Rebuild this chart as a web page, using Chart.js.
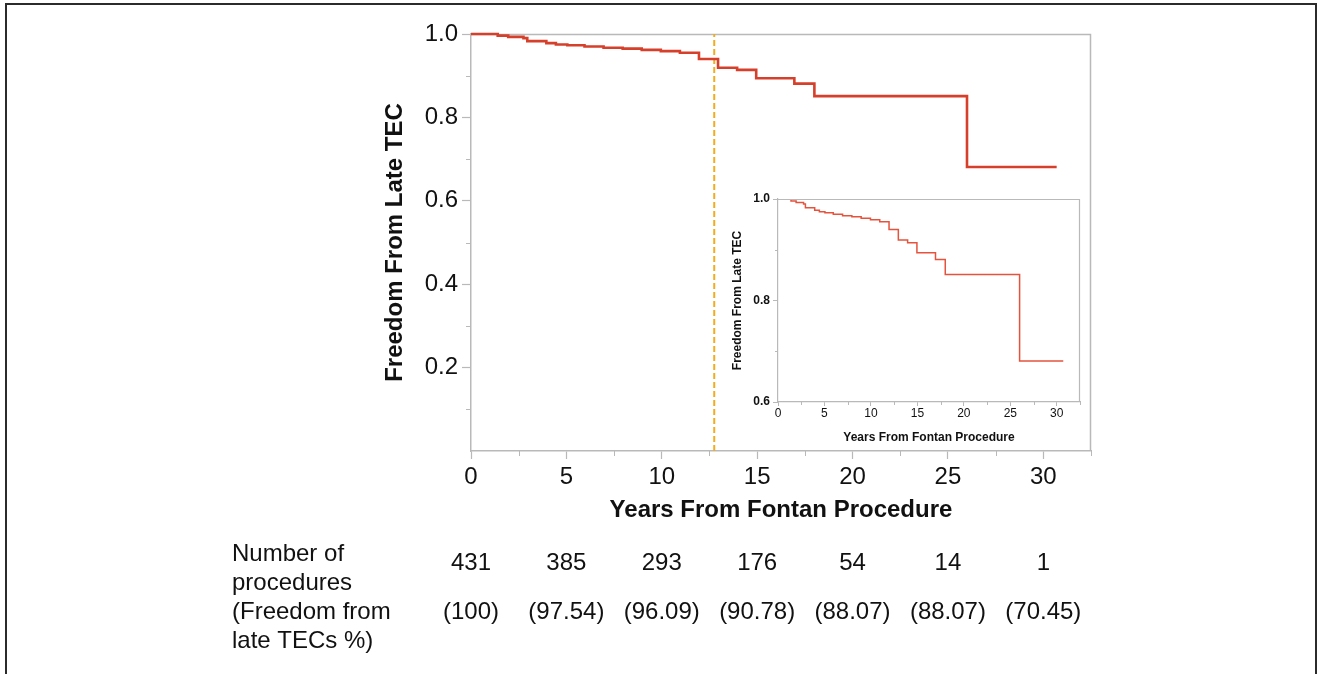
<!DOCTYPE html>
<html>
<head>
<meta charset="utf-8">
<script src="https://cdn.jsdelivr.net/npm/chart.js@4/dist/chart.umd.min.js"></script>
<style>
  body { margin: 0; background: #fff; }
  #wrap { position: relative; width: 1318px; height: 674px; overflow: hidden; background: #fff; }
  #frame { position: absolute; left: 5px; top: 3px; width: 1308px; height: 690px; border: 2px solid #2b2b2b; border-bottom: none; }
  #main { position: absolute; left: 0; top: 0; }
  #inset { position: absolute; left: 725px; top: 188px; }
</style>
</head>
<body>
<div id="wrap">
  <div id="frame"></div>
  <canvas id="main" width="1318" height="674" style="width:1318px;height:674px"></canvas>
  <canvas id="inset" width="362" height="262" style="width:362px;height:262px"></canvas>
</div>
<script>
// Kaplan-Meier steps (years, freedom from late TEC)
const years   = [0, 1.4, 1.95, 2.75, 2.95, 3.95, 4.45, 5.05, 5.95, 6.95, 7.95, 8.95, 9.95, 10.95, 11.95, 12.95, 13.95, 14.95, 16.95, 18.0, 26.0, 30.7];
const freedom = [1.0, 0.996, 0.993, 0.990, 0.983, 0.978, 0.975, 0.973, 0.970, 0.967, 0.965, 0.962, 0.959, 0.955, 0.940, 0.919, 0.914, 0.894, 0.881, 0.851, 0.681, 0.681];

// dashed marker
const cutoffYear = 12.75;

// numbers at risk table
const riskYears  = [0, 5, 10, 15, 20, 25, 30];
const atRisk     = [431, 385, 293, 176, 54, 14, 1];
const freedomPct = ['100', '97.54', '96.09', '90.78', '88.07', '88.07', '70.45'];
const rowLabels  = ['Number of', 'procedures', '(Freedom from', 'late TECs %)'];

const FONT = '"Liberation Sans", Arial, Helvetica, sans-serif';
const axisColor = '#b9b9b9';
const kmPoints = years.map((t, i) => ({x: t, y: freedom[i]}));

function drawFrame(chart, opts) {
  const {ctx, chartArea: a} = chart;
  ctx.save();
  ctx.strokeStyle = axisColor;
  ctx.lineWidth = opts.lw;
  ctx.beginPath();
  ctx.moveTo(a.left, a.top + 0.5);
  ctx.lineTo(a.right - 0.5, a.top + 0.5);
  ctx.lineTo(a.right - 0.5, a.bottom);
  ctx.stroke();
  ctx.restore();
}

// plot frame (top/right) and minor ticks
const extras = {
  id: 'extras',
  beforeDatasetsDraw(chart, args, opts) {
    if (opts.frameBehind) drawFrame(chart, opts);
  },
  afterDraw(chart, args, opts) {
    const {ctx, chartArea: a, scales: {x, y}} = chart;
    if (!opts.frameBehind) drawFrame(chart, opts);
    ctx.save();
    ctx.strokeStyle = axisColor;
    ctx.lineWidth = 1;
    ctx.beginPath();
    for (let i = 0; ; i++) {
      const v = x.min + i * opts.xMinor;
      if (v > x.max + 1e-9) break;
      if (Math.abs(v / opts.xMajor - Math.round(v / opts.xMajor)) < 1e-6) continue;
      const px = Math.round(x.getPixelForValue(v)) + 0.5;
      ctx.moveTo(px, a.bottom);
      ctx.lineTo(px, a.bottom + opts.minorLen);
    }
    for (let i = 0; ; i++) {
      const v = y.min + i * opts.yMinor;
      if (v > y.max + 1e-9) break;
      if (Math.abs(v / opts.yMajor - Math.round(v / opts.yMajor)) < 1e-6) continue;
      const py = Math.round(y.getPixelForValue(v)) + 0.5;
      ctx.moveTo(a.left - opts.minorLen, py);
      ctx.lineTo(a.left, py);
    }
    ctx.stroke();
    ctx.restore();
  }
};

const riskTable = {
  id: 'riskTable',
  afterDraw(chart) {
    const {ctx, scales: {x}} = chart;
    ctx.save();
    ctx.font = '24px ' + FONT;
    ctx.fillStyle = '#111';
    ctx.textBaseline = 'middle';
    ctx.textAlign = 'left';
    rowLabels.forEach((t, i) => ctx.fillText(t, 232, 554 + i * 29));
    ctx.textAlign = 'center';
    riskYears.forEach((yr, i) => {
      const px = x.getPixelForValue(yr);
      ctx.fillText(String(atRisk[i]), px, 563);
      ctx.fillText('(' + freedomPct[i] + ')', px, 612);
    });
    ctx.restore();
  }
};

new Chart(document.getElementById('main'), {
  type: 'scatter',
  data: {
    datasets: [{
      data: kmPoints,
      showLine: true,
      stepped: true,
      borderColor: '#d63f2a',
      borderWidth: 2.6,
      pointRadius: 0,
      clip: 3
    }, {
      data: [{x: cutoffYear, y: 0}, {x: cutoffYear, y: 1}],
      showLine: true,
      borderColor: '#f2ad1f',
      borderWidth: 2,
      borderDash: [6, 3],
      pointRadius: 0
    }]
  },
  options: {
    responsive: false,
    animation: false,
    layout: {padding: {left: 370, top: 34, right: 227, bottom: 143}},
    plugins: {
      legend: {display: false},
      tooltip: {enabled: false},
      extras: {lw: 1.5, frameBehind: true, xMinor: 2.5, xMajor: 5, yMinor: 0.1, yMajor: 0.2, minorLen: 5}
    },
    scales: {
      x: {
        type: 'linear',
        min: 0, max: 32.5,
        afterFit: s => { s.height = 80; },
        border: {display: true, color: axisColor, width: 1.5},
        grid: {drawOnChartArea: false, drawTicks: true, tickLength: 8, tickColor: axisColor, tickWidth: 1.2},
        ticks: {stepSize: 5, includeBounds: false, padding: 4, color: '#111', font: {family: FONT, size: 24}},
        title: {display: true, text: 'Years From Fontan Procedure', color: '#111', padding: {top: 0, bottom: 6}, font: {family: FONT, size: 24, weight: 'bold'}}
      },
      y: {
        min: 0, max: 1,
        afterFit: s => { s.width = 101; },
        border: {display: true, color: axisColor, width: 1.5},
        grid: {
          drawOnChartArea: false, drawTicks: true, tickLength: 9, tickWidth: 1.2,
          tickColor: c => (c.tick && Math.abs(c.tick.value) < 1e-9) ? 'rgba(0,0,0,0)' : axisColor
        },
        ticks: {
          stepSize: 0.2, padding: 4, color: '#111', font: {family: FONT, size: 24},
          callback: v => Math.abs(v) < 1e-9 ? '' : v.toFixed(1)
        },
        title: {display: true, text: 'Freedom From Late TEC', color: '#111', padding: {top: 11, bottom: 0}, font: {family: FONT, size: 24, weight: 'bold'}}
      }
    }
  },
  plugins: [extras, riskTable]
});

new Chart(document.getElementById('inset'), {
  type: 'scatter',
  data: {
    datasets: [{
      data: kmPoints,
      showLine: true,
      stepped: true,
      borderColor: '#e5533d',
      borderWidth: 1.5,
      pointRadius: 0
    }]
  },
  options: {
    responsive: false,
    animation: false,
    layout: {padding: {left: 2, top: 11, right: 7, bottom: 4}},
    plugins: {
      legend: {display: false},
      tooltip: {enabled: false},
      extras: {lw: 1.2, frameBehind: false, xMinor: 2.5, xMajor: 5, yMinor: 0.1, yMajor: 0.2, minorLen: 3}
    },
    scales: {
      x: {
        type: 'linear',
        min: 0, max: 32.5,
        afterFit: s => { s.height = 44; },
        border: {display: true, color: axisColor, width: 1.2},
        grid: {drawOnChartArea: false, drawTicks: true, tickLength: 4, tickColor: axisColor},
        ticks: {stepSize: 5, includeBounds: false, padding: 0, color: '#111', font: {family: FONT, size: 12}},
        title: {display: true, text: 'Years From Fontan Procedure', color: '#111', padding: {top: 0, bottom: 1}, font: {family: FONT, size: 12, weight: 'bold'}}
      },
      y: {
        min: 0.6, max: 1,
        afterFit: s => { s.width = 51; },
        border: {display: true, color: axisColor, width: 1.2},
        grid: {drawOnChartArea: false, drawTicks: true, tickLength: 5, tickColor: axisColor},
        ticks: {stepSize: 0.2, padding: 3, color: '#111', font: {family: FONT, size: 12, weight: 'bold'}, callback: v => v.toFixed(1)},
        title: {display: true, text: 'Freedom From Late TEC', color: '#111', padding: {top: 3, bottom: 0}, font: {family: FONT, size: 12, weight: 'bold'}}
      }
    }
  },
  plugins: [extras]
});
</script>
</body>
</html>
